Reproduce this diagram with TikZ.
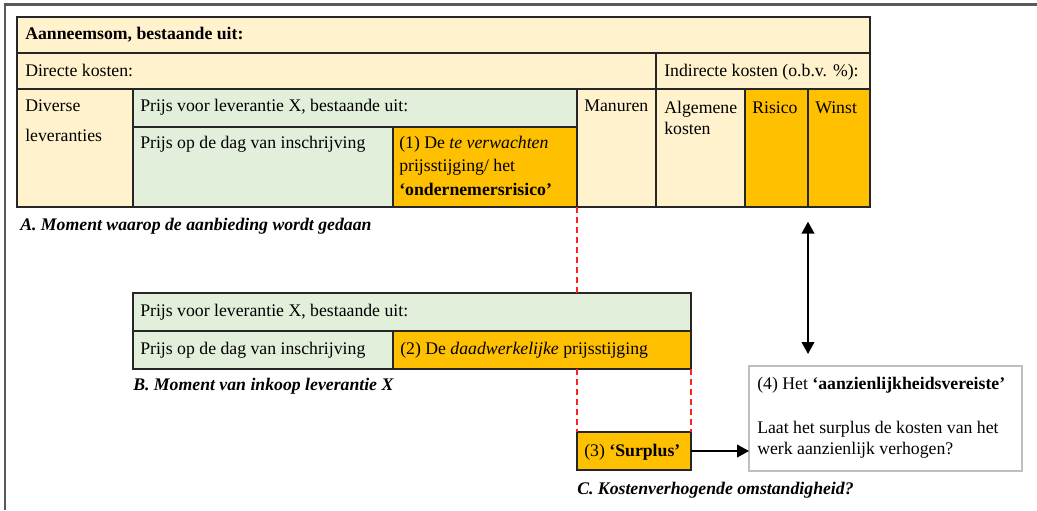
\documentclass[tikz,border=0pt]{standalone}
\usepackage{fontspec}
\setmainfont{Liberation Serif}
\usepackage{tikz}
\usetikzlibrary{arrows.meta,fit}
\definecolor{cream}{HTML}{FFF2CC}
\definecolor{lgreen}{HTML}{E2EFDA}
\definecolor{amber}{HTML}{FFC000}
\definecolor{edgegray}{HTML}{262626}
\definecolor{framegray}{HTML}{595959}
\definecolor{boxgray}{HTML}{BFBFBF}
\definecolor{dashred}{HTML}{FF2020}

\begin{document}
\begin{tikzpicture}[x=0.75pt, y=-0.75pt]
  \tikzset{cell/.style={draw=edgegray, line width=0.8pt, inner sep=0pt, outer sep=0pt}}
  \tikzset{txt/.style={anchor=base west, inner sep=0pt, font=\fontsize{13.3}{15}\selectfont}}
  \tikzset{moment/.style={txt, font=\fontsize{13.3}{15}\selectfont\bfseries\itshape}}
  \tikzset{reddash/.style={dashred, line width=0.8pt, dash pattern=on 4.5pt off 3pt}}
  \tikzset{pijl/.style={line width=1.5pt, -{Triangle[length=9pt,width=9.5pt]}}}
  \tikzset{dubbelpijl/.style={line width=1.5pt, {Triangle[length=9pt,width=9.5pt]}-{Triangle[length=9pt,width=9.5pt]}}}
  \useasboundingbox (0,0) rectangle (1037,510);
  \draw[framegray, line width=1.6pt] (5,510) -- (5,4.5) -- (1037,4.5);

  % A: aanbieding
  \node[cell, fill=cream, fit={(17,17) (870,53)}] (aanneem) {};
  \node[cell, fill=cream, fit={(17,53) (656,89)}] (directe) {};
  \node[cell, fill=cream, fit={(656,53) (870,89)}] (indirecte) {};
  \node[cell, fill=cream, fit={(17,89) (133,207)}] (diverse) {};
  \node[cell, fill=lgreen, fit={(133,89) (577,127)}] (prijsA) {};
  \node[cell, fill=lgreen, fit={(133,127) (393,207)}] (dagA) {};
  \node[cell, fill=amber, fit={(393,127) (577,207)}] (stijgA) {};
  \node[cell, fill=cream, fit={(577,89) (656,207)}] (manuren) {};
  \node[cell, fill=cream, fit={(656,89) (745,207)}] (algemeen) {};
  \node[cell, fill=amber, fit={(745,89) (808,207)}] (risico) {};
  \node[cell, fill=amber, fit={(808,89) (870,207)}] (winst) {};

  \node[txt] (tAanneem) at (25,39.5) {\textbf{Aanneemsom, bestaande uit:}};
  \node[txt] (tDirecte) at (25,76) {Directe kosten:};
  \node[txt] (tIndirecte) at (664,76) {Indirecte kosten (o.b.v. \%):};
  \node[txt] (tDiverse) at (25,111) {Diverse};
  \node[txt] (tLever) at (25,141) {leveranties};
  \node[txt] (tPrijsA) at (140,111) {Prijs voor leverantie X, bestaande uit:};
  \node[txt] (tDagA) at (140,148) {Prijs op de dag van inschrijving};
  \node[txt] (tStijgA1) at (399,148) {(1) De \textit{te verwachten}};
  \node[txt] (tStijgA2) at (399,171) {prijsstijging/ het};
  \node[txt] (tStijgA3) at (399,195) {\textbf{‘ondernemersrisico’}};
  \node[txt] (tManuren) at (584,111) {Manuren};
  \node[txt] (tAlg1) at (664,113) {Algemene};
  \node[txt] (tAlg2) at (664,134) {kosten};
  \node[txt] (tRisico) at (752,113) {Risico};
  \node[txt] (tWinst) at (815,113) {Winst};
  \node[moment] (momA) at (20,230) {A. Moment waarop de aanbieding wordt gedaan};

  % B: inkoop
  \node[cell, fill=lgreen, fit={(133,293) (691,331)}] (prijsB) {};
  \node[cell, fill=lgreen, fit={(133,331) (393,369)}] (dagB) {};
  \node[cell, fill=amber, fit={(393,331) (691,369)}] (stijgB) {};
  \node[txt] (tPrijsB) at (140,316.5) {Prijs voor leverantie X, bestaande uit:};
  \node[txt] (tDagB) at (140,354) {Prijs op de dag van inschrijving};
  \node[txt] (tStijgB) at (400,354) {(2) De \textit{daadwerkelijke} prijsstijging};
  \node[moment] (momB) at (133,390) {B. Moment van inkoop leverantie X};

  % C: surplus
  \node[cell, fill=amber, fit={(577,432) (691,470)}] (surplus) {};
  \node[txt] (tSurplus) at (584,456) {(3) \textbf{‘Surplus’}};
  \node[moment] (momC) at (577,494) {C. Kostenverhogende omstandigheid?};

  \node[draw=boxgray, line width=1.1pt, fill=white, inner sep=0pt, outer sep=0pt, fit={(749,366) (1022,471)}] (vereiste) {};
  \node[txt] (tVer1) at (757,389) {(4) Het \textbf{‘aanzienlijkheidsvereiste’}};
  \node[txt] (tVer2) at (757,433) {Laat het surplus de kosten van het};
  \node[txt] (tVer3) at (757,454) {werk aanzienlijk verhogen?};

  \draw[reddash] (stijgA.south east) -- (stijgA.south east |- prijsB.north);
  \draw[reddash] (stijgB.south -| surplus.north west) -- (surplus.north west);
  \draw[reddash] (stijgB.south east) -- (surplus.north east);
  \draw[pijl] (surplus.east) -- (surplus.east -| vereiste.west);
  \draw[dubbelpijl] ([yshift=-11pt]winst.south west) -- ([yshift=9pt]winst.south west |- vereiste.north);
\end{tikzpicture}
\end{document}
